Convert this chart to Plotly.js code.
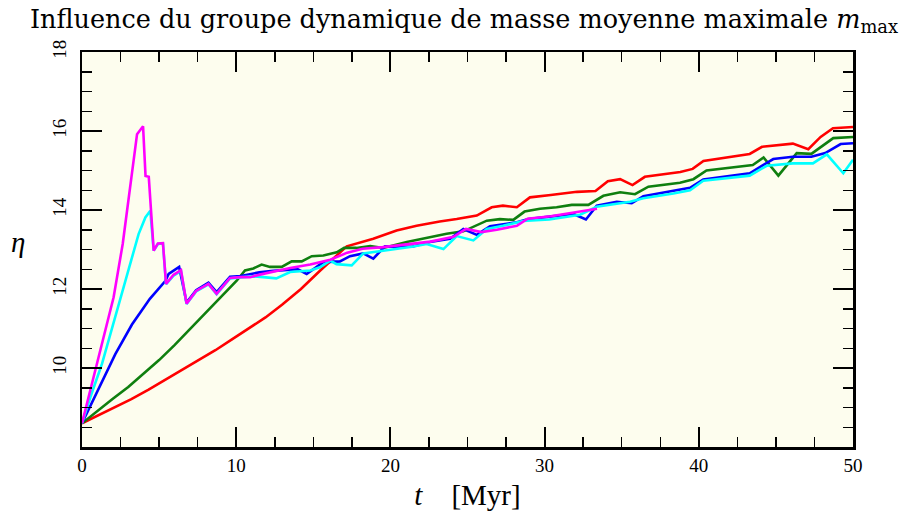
<!DOCTYPE html>
<html>
<head>
<meta charset="utf-8">
<script src="https://cdn.plot.ly/plotly-3.0.1.min.js"></script>
<style>html,body{margin:0;padding:0;background:#fff;}#chart{width:901px;height:520px;}</style>
</head>
<body>
<div id="chart"></div>
<script>
// ---- data (t in Myr, eta) ----
const redT = [0, 1, 2.16, 3.2, 4.32, 5.4, 6.49, 7.6, 8.65, 9.7, 10.81, 11.9, 12.97, 14.2, 15.45, 16.08, 17.17, 18.89, 20.4, 21.7, 23.2, 24.3, 25.6, 26.57, 27.3, 28.2, 29.05, 30.4, 32.1, 33.3, 34.1, 34.9, 35.7, 36.5, 38.8, 39.6, 40.3, 43.3, 44.1, 46.1, 47.1, 47.9, 48.7, 50];
const redEta = [8.6, 8.79, 9.0, 9.21, 9.45, 9.7, 9.95, 10.2, 10.45, 10.72, 11.0, 11.28, 11.6, 12.0, 12.47, 12.7, 13.08, 13.27, 13.48, 13.6, 13.71, 13.77, 13.86, 14.07, 14.11, 14.07, 14.32, 14.38, 14.46, 14.48, 14.73, 14.78, 14.63, 14.84, 14.96, 15.04, 15.24, 15.42, 15.6, 15.68, 15.54, 15.85, 16.07, 16.1];

const greenT = [0, 1, 2, 3, 4, 5, 6, 7, 8, 9, 10.03, 10.57, 11.11, 11.65, 12.19, 12.95, 13.6, 14.25, 14.9, 15.65, 16.52, 17.0, 17.8, 18.7, 19.54, 21.06, 22.57, 23.65, 24.73, 25.6, 26.25, 27.1, 27.97, 28.7, 29.7, 30.78, 31.76, 32.84, 33.81, 34.9, 35.86, 36.73, 38.78, 39.65, 40.5, 43.5, 44.2, 45.16, 46.35, 47.3, 48.72, 50];
const greenEta = [8.6, 8.92, 9.22, 9.52, 9.85, 10.2, 10.58, 10.98, 11.38, 11.8, 12.21, 12.47, 12.52, 12.62, 12.56, 12.56, 12.7, 12.7, 12.83, 12.85, 12.93, 13.04, 13.04, 13.09, 13.04, 13.19, 13.32, 13.4, 13.46, 13.61, 13.73, 13.77, 13.75, 13.96, 14.03, 14.07, 14.13, 14.13, 14.36, 14.45, 14.4, 14.59, 14.69, 14.78, 15.0, 15.14, 15.33, 14.87, 15.44, 15.42, 15.82, 15.85];

const blueT = [0, 0.54, 1.08, 2.16, 3.24, 4.4, 5.4, 5.62, 6.3, 6.78, 7.4, 8.2, 8.73, 9.6, 10.3, 11.5, 12.4, 13.5, 14.0, 14.57, 15.65, 16.73, 17.38, 18.24, 18.89, 19.65, 21.4, 22.57, 23.87, 24.73, 25.6, 26.46, 27.3, 28.2, 28.95, 30.78, 31.86, 32.68, 33.38, 34.68, 35.65, 36.4, 38.35, 39.43, 40.29, 43.3, 44.83, 46.1, 47.3, 48.2, 49.2, 50];
const blueEta = [8.6, 9.03, 9.47, 10.35, 11.1, 11.75, 12.2, 12.38, 12.56, 11.66, 11.97, 12.16, 11.92, 12.31, 12.33, 12.42, 12.46, 12.49, 12.5, 12.38, 12.68, 12.7, 12.83, 12.9, 12.77, 13.08, 13.07, 13.19, 13.27, 13.52, 13.37, 13.59, 13.64, 13.69, 13.77, 13.86, 13.9, 13.76, 14.11, 14.21, 14.17, 14.35, 14.48, 14.56, 14.77, 14.93, 15.29, 15.35, 15.35, 15.44, 15.67, 15.69];

const cyanT = [0, 0.54, 1.3, 2.16, 3.03, 3.67, 4.11, 4.43, 4.65, 4.92, 5.25, 5.45, 5.94, 6.42, 6.78, 7.4, 8.2, 8.73, 9.6, 10.3, 11.0, 11.76, 12.6, 13.5, 14.8, 15.43, 16.1, 16.5, 17.49, 18.24, 19.76, 21.4, 22.35, 23.44, 24.3, 25.38, 26.25, 27.3, 28.6, 30.3, 32.3, 33.38, 35.54, 36.4, 38.35, 39.43, 40.29, 43.3, 44.4, 46.1, 47.4, 48.3, 49.37, 50];
const cyanEta = [8.6, 9.26, 10.11, 11.29, 12.46, 13.39, 13.81, 13.98, 12.97, 13.14, 13.15, 12.12, 12.34, 12.46, 11.62, 11.94, 12.12, 11.87, 12.27, 12.3, 12.32, 12.3, 12.27, 12.43, 12.47, 12.55, 12.72, 12.63, 12.6, 12.9, 12.98, 13.07, 13.14, 13.01, 13.34, 13.23, 13.52, 13.6, 13.72, 13.76, 13.88, 14.08, 14.21, 14.3, 14.42, 14.5, 14.74, 14.87, 15.12, 15.18, 15.18, 15.41, 14.93, 15.27];

const magentaT = [0, 0.76, 1.3, 2.05, 2.64, 3.2, 3.57, 3.96, 4.12, 4.33, 4.65, 4.92, 5.25, 5.45, 5.94, 6.42, 6.78, 7.4, 8.2, 8.73, 9.6, 10.3, 10.9, 11.6, 12.4, 13.5, 14.8, 16.1, 17.2, 18.2, 19.5, 21.0, 22.6, 24.1, 24.9, 25.9, 26.9, 28.2, 28.9, 30.4, 32.1, 33.4];
const magentaEta = [8.6, 9.77, 10.61, 11.79, 13.14, 14.82, 15.92, 16.12, 14.86, 14.84, 12.97, 13.15, 13.16, 12.13, 12.36, 12.48, 11.63, 11.95, 12.13, 11.88, 12.28, 12.3, 12.3, 12.37, 12.44, 12.53, 12.62, 12.74, 12.92, 13.02, 13.06, 13.12, 13.2, 13.32, 13.52, 13.44, 13.5, 13.6, 13.78, 13.84, 13.94, 14.03];

const xTickVals = [0, 10, 20, 30, 40, 50];
const yTickVals = [10, 12, 14, 16, 18];

const titleText = "Influence du groupe dynamique de masse moyenne maximale <i>m</i><sub>max</sub>";
const xTitleText = "<i>t</i>&nbsp;&nbsp;&nbsp;&nbsp;[Myr]";
const yTitleText = "<i>η</i>";

// ---- plot ----
const serif = "Liberation Serif, serif";
const wideSerif = "DejaVu Serif, serif";
function tr(x, y, color) {
  return {x: x, y: y, type: 'scatter', mode: 'lines', line: {color: color, width: 2.6}, hoverinfo: 'skip'};
}
const data = [
  tr(redT, redEta, '#ff0000'),
  tr(greenT, greenEta, '#0f7f0f'),
  tr(blueT, blueEta, '#0000ff'),
  tr(cyanT, cyanEta, '#00ffff'),
  tr(magentaT, magentaEta, '#ff00ff')
];
const axisCommon = {
  showgrid: false, zeroline: false, showline: true, linecolor: '#000', linewidth: 2.5,
  mirror: 'allticks', ticks: 'inside', ticklen: 20, tickwidth: 2, tickcolor: '#000',
  tickfont: {family: serif, size: 19, color: '#000'}
};
const layout = {
  width: 901, height: 520,
  margin: {l: 82, r: 48, t: 52, b: 73},
  paper_bgcolor: '#ffffff', plot_bgcolor: '#fdfdee',
  showlegend: false,
  title: {text: titleText, x: 30/901, xanchor: 'left', xref: 'container', y: 1 - 19/520, yanchor: 'middle',
          font: {family: wideSerif, size: 25.5, color: '#000'}},
  xaxis: Object.assign({}, axisCommon, {
    range: [0, 50], tickmode: 'array', tickvals: xTickVals, ticktext: xTickVals.map(String),
    minor: {dtick: 2.5, tick0: 0, ticks: 'inside', ticklen: 10, tickwidth: 1.5, tickcolor: '#000'},
    title: {text: xTitleText, font: {family: serif, size: 29, color: '#000'}, standoff: 10}
  }),
  yaxis: Object.assign({}, axisCommon, {
    range: [8, 18], tickmode: 'array', tickvals: yTickVals, ticktext: yTickVals.map(String), tickangle: -90,
    ticklabelstandoff: 6,
    minor: {dtick: 0.5, tick0: 8, ticks: 'inside', ticklen: 10, tickwidth: 1.5, tickcolor: '#000'}
  }),
  annotations: [{
    text: yTitleText, xref: 'paper', yref: 'paper', x: -64/771, y: 0.52, xanchor: 'center', yanchor: 'middle',
    showarrow: false, font: {family: serif, size: 29, color: '#000'}
  }]
};
Plotly.newPlot('chart', data, layout, {staticPlot: true, displayModeBar: false});
</script>
</body>
</html>
